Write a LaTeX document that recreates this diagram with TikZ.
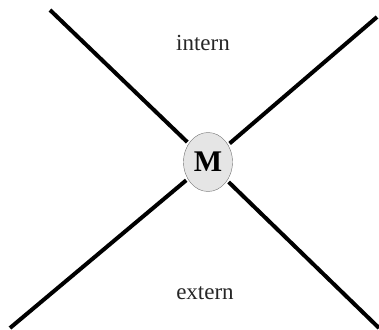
\documentclass[tikz,border=0pt]{standalone}
\usepackage{fontspec}
\setmainfont{Liberation Serif}
\usetikzlibrary{shapes.geometric}
\begin{document}
\begin{tikzpicture}[x=1pt,y=-1pt,
  arm/.style={line width=4pt},
  label/.style={font=\fontsize{23}{26}\selectfont, text=black!85}]
  \useasboundingbox (0,0) rectangle (379,329);

  % Motor in der Mitte
  \node[ellipse, draw=black!55, fill=black!10, minimum width=49pt, minimum height=59pt,
        inner sep=0pt, font=\fontsize{30}{32}\selectfont\bfseries] (M) at (208,162) {M};

  % Enden der Arme
  \coordinate (tl) at (50,10);
  \coordinate (tr) at (377,17);
  \coordinate (bl) at (10,328);
  \coordinate (br) at (379,328);

  % Arme
  \foreach \e in {tl, tr, bl, br}
    \draw[arm, shorten >=2pt] (\e) -- (M);

  % Beschriftung
  \node[label] (intern) at (203,43) {intern};
  \node[label] (extern) at (205,293) {extern};
\end{tikzpicture}
\end{document}
